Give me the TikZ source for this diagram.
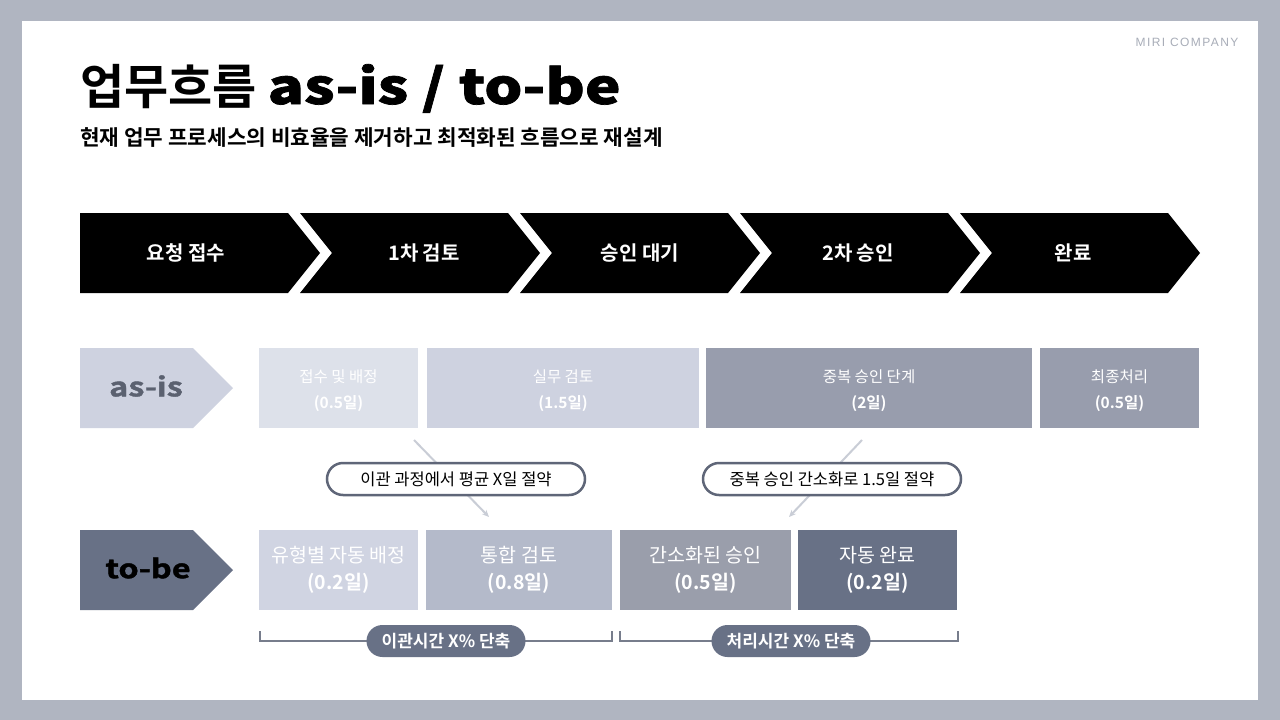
\documentclass[tikz,border=0pt]{standalone}
\usepackage{fontspec}
\usepackage{xcolor}
\usetikzlibrary{arrows.meta}
\setmainfont{Noto Sans CJK KR}[BoldFont={Noto Sans CJK KR Bold}]
\newfontfamily\titlelat{Noto Sans CJK KR Bold}[FakeStretch=1.25,FakeBold=1.5]
\newfontfamily\logofont{Liberation Sans}[LetterSpace=12]

\definecolor{bgframe}{HTML}{B0B5C1}
\definecolor{asbox1}{HTML}{DDE1EA}
\definecolor{asbox2}{HTML}{CED2E0}
\definecolor{asbox3}{HTML}{989DAD}
\definecolor{tobox1}{HTML}{D0D4E2}
\definecolor{tobox2}{HTML}{B4BACA}
\definecolor{tobox3}{HTML}{9A9EAB}
\definecolor{tobox4}{HTML}{687186}
\definecolor{slate}{HTML}{5F6678}
\definecolor{asislbl}{HTML}{5B6170}
\definecolor{arrowgray}{HTML}{C9CDD6}
\definecolor{logogray}{HTML}{A8ADB8}

\tikzset{
  steplbl/.style={text=white,font=\fontsize{20}{24}\selectfont\bfseries},
  astext/.style={text=white,align=center,font=\fontsize{15.5}{26}\selectfont},
  totext/.style={text=white,align=center,font=\fontsize{19.5}{27}\selectfont},
  bubble/.style={draw=slate,line width=2.5pt,fill=white,rounded corners=16pt,
    minimum width=258pt,minimum height=32pt,inner sep=0pt,
    font=\fontsize{16.5}{18}\selectfont},
  pill/.style={fill=tobox4,rounded corners=16pt,text=white,inner sep=0pt,
    minimum width=159pt,minimum height=32pt,font=\fontsize{17}{18}\selectfont\bfseries},
  brk/.style={draw=slate!85,line width=1.5pt},
  saveline/.style={draw=arrowgray,line width=2pt,-{Stealth[length=7pt,width=6pt]}}
}

\begin{document}
\begin{tikzpicture}[x=1pt,y=-1pt]

% frame and white sheet
\fill[bgframe] (0,0) rectangle (1280,720);
\fill[white] (22,21) rectangle (1258,700);
\useasboundingbox (0,0) rectangle (1280,720);

% heading
\node[anchor=east,text=logogray,font=\logofont\fontsize{12}{14}\selectfont] (logo) at (1242,42) {MIRI COMPANY};
\node[anchor=base west,font=\fontsize{48}{52}\selectfont\bfseries,inner sep=0pt] (title) at (80,104)
  {업무흐름 {\titlelat as-is / to-be}};
\node[anchor=west,font=\fontsize{21.3}{24}\selectfont\bfseries,inner sep=0pt] (sub) at (80,138)
  {현재 업무 프로세스의 비효율을 제거하고 최적화된 흐름으로 재설계};

% process chevrons
\foreach \i in {0,...,4} {
  \pgfmathsetmacro{\nd}{\i==0 ? 0 : 32}
  \fill[black] ({80+220*\i},213) -- ++(208,0) -- ++(32,40) -- ++(-32,40)
    -- ({80+220*\i},293) -- ({80+220*\i+\nd},253) -- cycle;
}
\foreach \lx/\lbl [count=\k] in {186/요청 접수,424/1차 검토,640/승인 대기,858/2차 승인,1073/완료}
  \node[steplbl] (step\k) at (\lx,253) {\lbl};

% as-is row
\fill[asbox2] (80,348) -- (193,348) -- (233,388) -- (193,428) -- (80,428) -- cycle;
\node[text=asislbl,font=\titlelat\fontsize{26}{28}\selectfont] (asis) at (146,386) {as-is};
\foreach \xa/\xb/\col/\ta/\tb [count=\k] in {259/418/asbox1/접수 및 배정/(0.5일),
    427/699/asbox2/실무 검토/(1.5일),706/1032/asbox3/중복 승인 단계/(2일),
    1040/1199/asbox3/최종처리/(0.5일)} {
  \fill[\col] (\xa,348) rectangle (\xb,428);
  \node[astext] (as\k) at ({(\xa+\xb)/2},391) {\ta\\\textbf{\tb}};
}

% to-be row
\fill[tobox4] (80,530) -- (193,530) -- (233,570) -- (193,610) -- (80,610) -- cycle;
\node[text=black,font=\titlelat\fontsize{26}{28}\selectfont] (tobe) at (148,568) {to-be};
\foreach \xa/\xb/\col/\ta/\tb [count=\k] in {259/418/tobox1/유형별 자동 배정/(0.2일),
    426/612/tobox2/통합 검토/(0.8일),620/791/tobox3/간소화된 승인/(0.5일),
    798/957/tobox4/자동 완료/(0.2일)} {
  \fill[\col] (\xa,530) rectangle (\xb,610);
  \node[totext] (to\k) at ({(\xa+\xb)/2},570) {\ta\\\textbf{\tb}};
}

% savings
\coordinate (s1a) at (414,440);
\coordinate (s1b) at (489,517);
\coordinate (s2a) at (862,440);
\coordinate (s2b) at (789,517);
\draw[saveline] (s1a) -- (s1b);
\draw[saveline] (s2a) -- (s2b);
\node[bubble] (save1) at (456,479) {이관 과정에서 평균 X일 절약};
\node[bubble] (save2) at (832,479) {중복 승인 간소화로 1.5일 절약};

% brackets
\coordinate (b1l) at (260,631);
\coordinate (b1r) at (612,631);
\coordinate (b2l) at (620,631);
\coordinate (b2r) at (958,631);
\draw[brk] (b1l) -- ++(0,10) -- ++(352,0) -- (b1r);
\draw[brk] (b2l) -- ++(0,10) -- ++(338,0) -- (b2r);
\node[pill] (cut1) at (446,641) {이관시간 X\% 단축};
\node[pill] (cut2) at (791,641) {처리시간 X\% 단축};

\end{tikzpicture}
\end{document}
